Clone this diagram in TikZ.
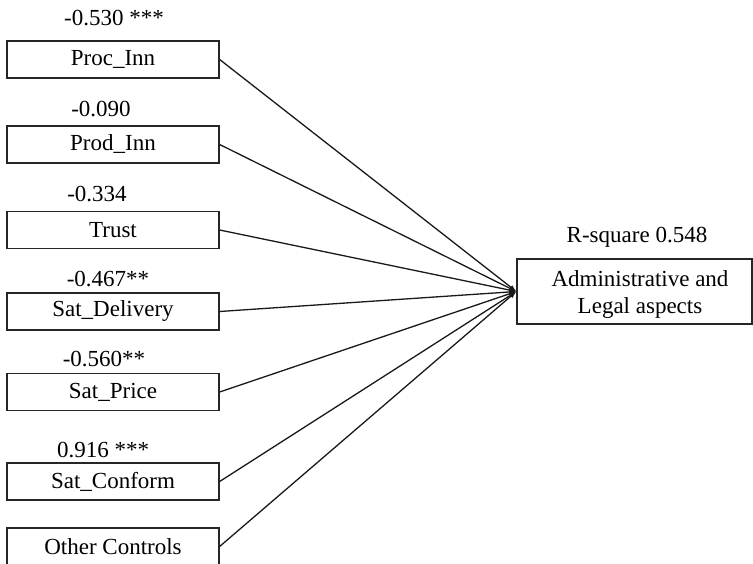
\documentclass[tikz,border=0pt]{standalone}
\usepackage{fontspec}
\setmainfont{Liberation Serif}
\usetikzlibrary{arrows.meta}
\begin{document}
\begin{tikzpicture}[x=1pt,y=-1pt,
  varbox/.style={draw=black!85, line width=1.3pt, minimum width=212pt, minimum height=37pt,
    inner sep=0pt, font=\fontsize{23}{27}\selectfont},
  coef/.style={font=\fontsize{23}{27}\selectfont, inner sep=0pt},
  link/.style={draw=black!90, line width=1.3pt, -{Latex[length=7pt,width=5pt]}}]
\useasboundingbox (0,0) rectangle (753,564);

% predictor boxes
\node[varbox] (proc) at (113,59.5) {Proc\_Inn};
\node[varbox] (prod) at (113,144.5) {Prod\_Inn};
\node[varbox] (trust) at (113,230) {Trust};
\node[varbox] (deliv) at (113,311.5) {Sat\_Delivery};
\node[varbox] (price) at (113,392) {Sat\_Price};
\node[varbox] (conf) at (113,481.5) {Sat\_Conform};
\node[varbox] (other) at (113,546.5) {Other Controls};

% coefficients above the boxes
\node[coef] (cproc) at (114,18) {-0.530 ***};
\node[coef] (cprod) at (101,109) {-0.090};
\node[coef] (ctrust) at (97,194) {-0.334};
\node[coef] (cdeliv) at (108,279) {-0.467**};
\node[coef] (cprice) at (104,359) {-0.560**};
\node[coef] (cconf) at (103,450) {0.916 ***};

% outcome box and its two-line caption
\node[varbox, minimum width=235pt, minimum height=65pt] (adm) at (634.5,291.5) {};
\node[coef, align=center] (admtext) at (640,294.5) {Administrative and\\Legal aspects};
\node[coef] (rsq) at (637,237) {R-square 0.548};

% paths
\foreach \n in {proc,prod,trust,deliv,price,conf,other}
  \draw[link] (\n.east) -- (adm.west);
\end{tikzpicture}
\end{document}
